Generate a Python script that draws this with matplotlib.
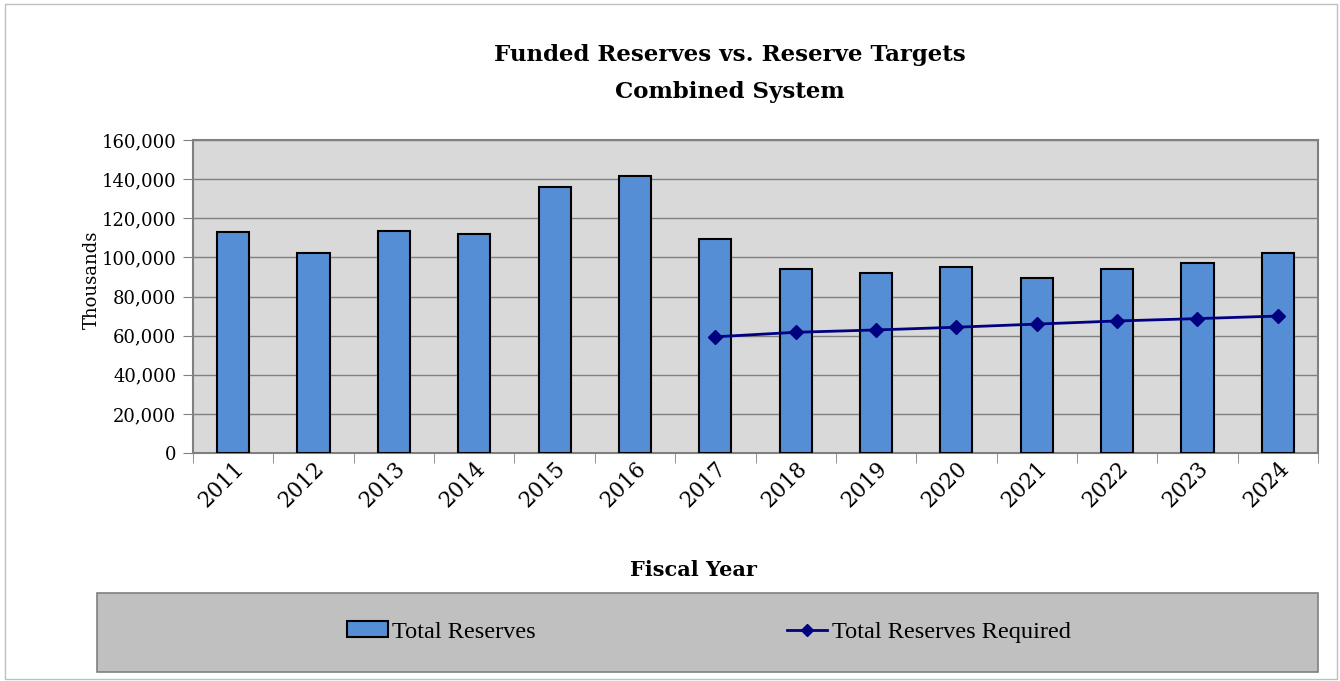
import matplotlib
matplotlib.use("Agg")
import matplotlib.pyplot as plt
from matplotlib.patches import Rectangle, Patch
from matplotlib.lines import Line2D
from matplotlib.ticker import FuncFormatter, FixedLocator
import numpy as np

years = ["2011", "2012", "2013", "2014", "2015", "2016", "2017",
         "2018", "2019", "2020", "2021", "2022", "2023", "2024"]
total_reserves = [113000, 102200, 113500, 112000, 136000, 141600, 109400,
                  94200, 91900, 94900, 89300, 94200, 97000, 102400]
required_years = ["2017", "2018", "2019", "2020", "2021", "2022", "2023", "2024"]
required_reserves = [59400, 61700, 62900, 64300, 65900, 67500, 68700, 70000]

W, H = 1340, 681
fig = plt.figure(figsize=(W / 100, H / 100), dpi=100)
serif = "DejaVu Serif"

ax = fig.add_axes([193 / W, 1 - 453 / H, (1318 - 193) / W, (453 - 140) / H])
ax.set_facecolor("#D9D9D9")

x = np.arange(len(years))
ax.bar(x, total_reserves, width=0.4, color="#558ED5", edgecolor="black",
       linewidth=1.5, zorder=3)
rx = [years.index(y) for y in required_years]
ax.plot(rx, required_reserves, color="#000080", linewidth=2, marker="D",
        markersize=7, zorder=4)

ax.set_xlim(-0.5, len(years) - 0.5)
ax.set_ylim(0, 160000)
ax.set_yticks(np.arange(0, 160001, 20000))
ax.yaxis.set_major_formatter(FuncFormatter(lambda v, p: f"{int(v):,}"))
ax.grid(axis="y", color="#808080", linewidth=1, zorder=1)

ax.set_xticks(x)
ax.set_xticklabels(years, rotation=45, ha="right", rotation_mode="anchor",
                   fontsize=15.5, family=serif)
ax.tick_params(axis="x", length=0, pad=3)
ax.xaxis.set_minor_locator(FixedLocator(np.arange(-0.5, len(years), 1.0)))
ax.tick_params(axis="x", which="minor", length=7, color="#808080", direction="out")
ax.tick_params(axis="y", length=7, color="#808080", labelsize=13, pad=5)
for lab in ax.get_yticklabels():
    lab.set_family(serif)

for side in ["top", "right", "left", "bottom"]:
    ax.spines[side].set_color("#808080")
    ax.spines[side].set_linewidth(1.5)

fig.text(730 / W, 1 - 55 / H, "Funded Reserves vs. Reserve Targets",
         ha="center", va="center", fontsize=16.5, fontweight="bold", family=serif)
fig.text(730 / W, 1 - 92 / H, "Combined System",
         ha="center", va="center", fontsize=16.5, fontweight="bold", family=serif)
fig.text(92 / W, 1 - 280 / H, "Thousands", rotation=90, ha="center",
         va="center", fontsize=13, family=serif)
fig.text(693 / W, 1 - 570 / H, "Fiscal Year", ha="center", va="center",
         fontsize=15, fontweight="bold", family=serif)

# legend panel
fig.patches.append(Rectangle((97 / W, 1 - 672 / H), (1318 - 97) / W, 79 / H,
                             transform=fig.transFigure, facecolor="#C0C0C0",
                             edgecolor="#808080", linewidth=1.2, zorder=0))
# outer frame
fig.patches.append(Rectangle((5 / W, 2 / H), (W - 8) / W, (H - 6) / H,
                             transform=fig.transFigure, facecolor="none",
                             edgecolor="#BFBFBF", linewidth=1, zorder=0))

leg_font = {"family": "Liberation Serif", "size": 17.5}
h1 = Patch(facecolor="#558ED5", edgecolor="black", linewidth=1.5)
h2 = Line2D([], [], color="#000080", linewidth=2, marker="D", markersize=6)
fig.legend([h1], ["Total Reserves"], loc="center left",
           bbox_to_anchor=(347 / W, 1 - 632 / H), frameon=False, prop=leg_font,
           borderpad=0, borderaxespad=0,
           handlelength=1.7, handleheight=0.65, handletextpad=0.15)
fig.legend([h2], ["Total Reserves Required"], loc="center left",
           bbox_to_anchor=(787 / W, 1 - 632 / H), frameon=False, prop=leg_font,
           borderpad=0, borderaxespad=0,
           handlelength=1.65, handletextpad=0.2)

fig.savefig("out.png", dpi=100)
